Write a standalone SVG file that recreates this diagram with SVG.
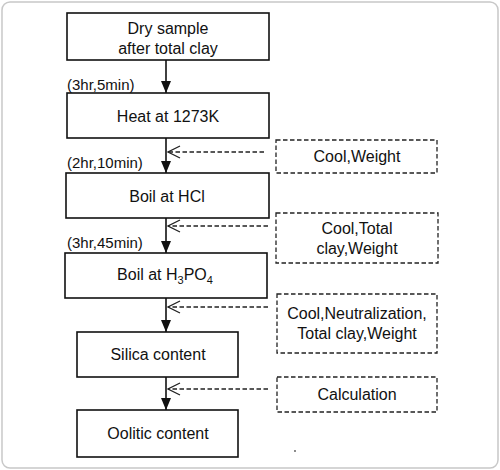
<svg xmlns="http://www.w3.org/2000/svg" width="500" height="470" viewBox="0 0 500 470">
<style>
.frame{fill:#fff;stroke:#c8c8c8;stroke-width:1.5}
.box{fill:#fff;stroke:#111;stroke-width:1.6}
.dbox{fill:#fff;stroke:#222;stroke-width:1.3;stroke-dasharray:4.5 2.5}
.t{font-family:"Liberation Sans",Arial,sans-serif;font-size:16px;fill:#111;text-anchor:middle}
.s{font-family:"Liberation Sans",Arial,sans-serif;font-size:15px;fill:#111}
.flow{stroke:#111;stroke-width:1.6;fill:none}
.dash{stroke:#222;stroke-width:1.3;fill:none;stroke-dasharray:4.5 2.5}
</style>
<defs>
<marker id="solid" viewBox="0 0 12 10" refX="12" refY="5" markerWidth="12" markerHeight="10" orient="auto" markerUnits="userSpaceOnUse">
<path d="M0,0 L12,5 L0,10 Z" fill="#111"/>
</marker>
<marker id="open" viewBox="0 0 14 14" refX="13" refY="7" markerWidth="14" markerHeight="14" orient="auto" markerUnits="userSpaceOnUse">
<path d="M1,1 L13,7 L1,13" fill="none" stroke="#222" stroke-width="1.3"/>
</marker>
</defs>
<rect class="frame" x="2" y="2" width="496" height="466" rx="8"/>
<g id="connectors">
<line class="flow" x1="166" y1="60" x2="166" y2="93" marker-end="url(#solid)"/>
<line class="flow" x1="166" y1="138" x2="166" y2="173" marker-end="url(#solid)"/>
<line class="flow" x1="166" y1="218" x2="166" y2="253" marker-end="url(#solid)"/>
<line class="flow" x1="166" y1="298" x2="166" y2="332" marker-end="url(#solid)"/>
<line class="flow" x1="166" y1="377" x2="166" y2="410" marker-end="url(#solid)"/>
<line class="dash" x1="264" y1="152" x2="168" y2="152" marker-end="url(#open)"/>
<line class="dash" x1="268" y1="226" x2="168" y2="226" marker-end="url(#open)"/>
<line class="dash" x1="268" y1="307" x2="168" y2="307" marker-end="url(#open)"/>
<line class="dash" x1="268" y1="389" x2="168" y2="389" marker-end="url(#open)"/>
<text class="s" x="67" y="90">(3hr,5min)</text>
<text class="s" x="67" y="168">(2hr,10min)</text>
<text class="s" x="67" y="248">(3hr,45min)</text>
</g>
<g id="n1"><rect class="box" x="67" y="13" width="202" height="47"/>
<text class="t" x="168" y="34">Dry sample</text><text class="t" x="168" y="54">after total clay</text></g>
<g id="n2"><rect class="box" x="67" y="93" width="202" height="45"/>
<text class="t" x="168" y="122">Heat at 1273K</text></g>
<g id="n3"><rect class="box" x="66" y="173" width="203" height="45"/>
<text class="t" x="167" y="202">Boil at HCl</text></g>
<g id="n4"><rect class="box" x="65" y="253" width="202" height="45"/>
<text class="t" x="165" y="280">Boil at H<tspan font-size="11" dy="4">3</tspan><tspan dy="-4">PO</tspan><tspan font-size="11" dy="4">4</tspan></text></g>
<g id="n5"><rect class="box" x="77" y="332" width="161" height="45"/>
<text class="t" x="158" y="360">Silica content</text></g>
<g id="n6"><rect class="box" x="77" y="410" width="161" height="47"/>
<text class="t" x="158" y="439">Oolitic content</text></g>
<g id="d1"><rect class="dbox" x="276" y="140" width="161" height="33"/>
<text class="t" x="357" y="162">Cool,Weight</text></g>
<g id="d2"><rect class="dbox" x="276" y="213" width="162" height="50"/>
<text class="t" x="357" y="234">Cool,Total</text><text class="t" x="357" y="254">clay,Weight</text></g>
<g id="d3"><rect class="dbox" x="277" y="294" width="160" height="59"/>
<text class="t" x="357" y="319">Cool,Neutralization,</text><text class="t" x="357" y="339">Total clay,Weight</text></g>
<g id="d4"><rect class="dbox" x="277" y="377" width="160" height="35"/>
<text class="t" x="357" y="400">Calculation</text></g>
<circle cx="295" cy="451" r="0.9" fill="#555"/>
</svg>
